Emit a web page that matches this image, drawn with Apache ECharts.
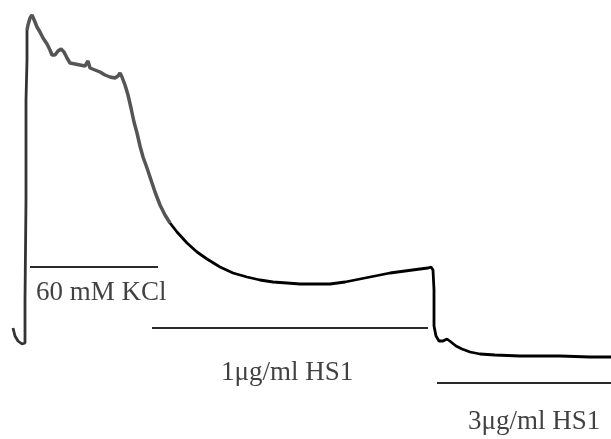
<!DOCTYPE html>
<html>
<head>
<meta charset="utf-8">
<script src="https://cdn.jsdelivr.net/npm/echarts@6/dist/echarts.min.js"></script>
<style>html,body{margin:0;padding:0;background:#fff}#c{width:611px;height:439px}</style>
</head>
<body>
<div id="c"></div>
<script>
// Trace segments: time (arbitrary units) and tension (arbitrary units)
const riseTime    = [13, 15, 18, 22, 25, 25, 26, 26, 27, 27];
const riseTension = [111, 103, 98, 95, 96, 139, 239, 339, 379, 409];

const kclTime    = [27, 28, 30, 32, 34, 35, 37, 40, 43, 47, 50, 52, 55, 58, 61, 64, 67, 70, 75, 80, 85, 88, 90, 95, 100, 105, 110, 115, 118, 120, 122, 125, 128, 131, 134, 137, 140, 143, 147, 151, 155, 160, 165, 170];
const kclTension = [409, 414, 421, 424, 422, 417, 412, 407, 401, 395, 389, 384, 384, 388, 390, 387, 381, 376, 375, 374, 373, 378, 371, 369, 367, 364, 362, 361, 363, 366, 362, 354, 344, 331, 317, 306, 293, 282, 271, 259, 247, 234, 224, 216];

const hsTime    = [170, 177, 187, 197, 207, 220, 233, 247, 260, 273, 287, 300, 315, 330, 345, 360, 375, 390, 405, 420, 428, 431, 433, 434, 434, 434, 436, 439, 443, 447, 451, 456, 462, 470, 480, 495, 520, 560, 590, 611];
const hsTension = [216, 207, 196, 187, 180, 172, 166, 162, 159, 157, 156, 155, 155, 155, 157, 160, 163, 166, 168, 170, 171, 172, 169, 149, 129, 113, 103, 98, 98, 100, 97, 93, 90, 87, 85, 84, 83, 83, 82, 82];

// Treatment bars
const treatNames   = ["60 mM KCl", "1\u03bcg/ml HS1", "3\u03bcg/ml HS1"];
const treatStart   = [30, 152, 437];
const treatEnd     = [158, 428, 611];
const treatLevel   = [172, 111, 56];
const labelTime    = [36, 221, 468];
const labelTension = [146, 66, 17];

const zip = (a, b) => a.map((v, i) => [v, b[i]]);
const FONT = '"Liberation Serif", "Times New Roman", serif';

const series = [
  { type: 'line', data: zip(riseTime, riseTension), showSymbol: false, lineStyle: { color: '#333', width: 2.8 }, z: 3 },
  { type: 'line', data: zip(kclTime, kclTension), showSymbol: false, lineStyle: { color: '#555', width: 3.5 }, z: 3 },
  { type: 'line', data: zip(hsTime, hsTension), showSymbol: false, lineStyle: { color: '#000', width: 2.8 }, z: 3 }
];
treatNames.forEach((n, i) => {
  series.push({ type: 'line', data: [[treatStart[i], treatLevel[i]], [treatEnd[i], treatLevel[i]]], showSymbol: false, lineStyle: { color: '#2a2a2a', width: 2.2 }, z: 2 });
});
series.push({
  type: 'scatter', symbolSize: 0, z: 4,
  data: treatNames.map((n, i) => ({ name: n, value: [labelTime[i], labelTension[i]] })),
  label: { show: true, position: [0, 0], align: 'left', verticalAlign: 'middle', formatter: p => p.name,
           fontFamily: FONT, fontSize: 27, color: '#111' }
});

const chart = echarts.init(document.getElementById('c'));
chart.setOption({
  animation: false,
  backgroundColor: '#fff',
  grid: { left: 0, right: 0, top: 0, bottom: 0 },
  xAxis: { type: 'value', min: 0, max: 611, show: false },
  yAxis: { type: 'value', min: 0, max: 439, show: false },
  series: series
});
</script>
</body>
</html>
